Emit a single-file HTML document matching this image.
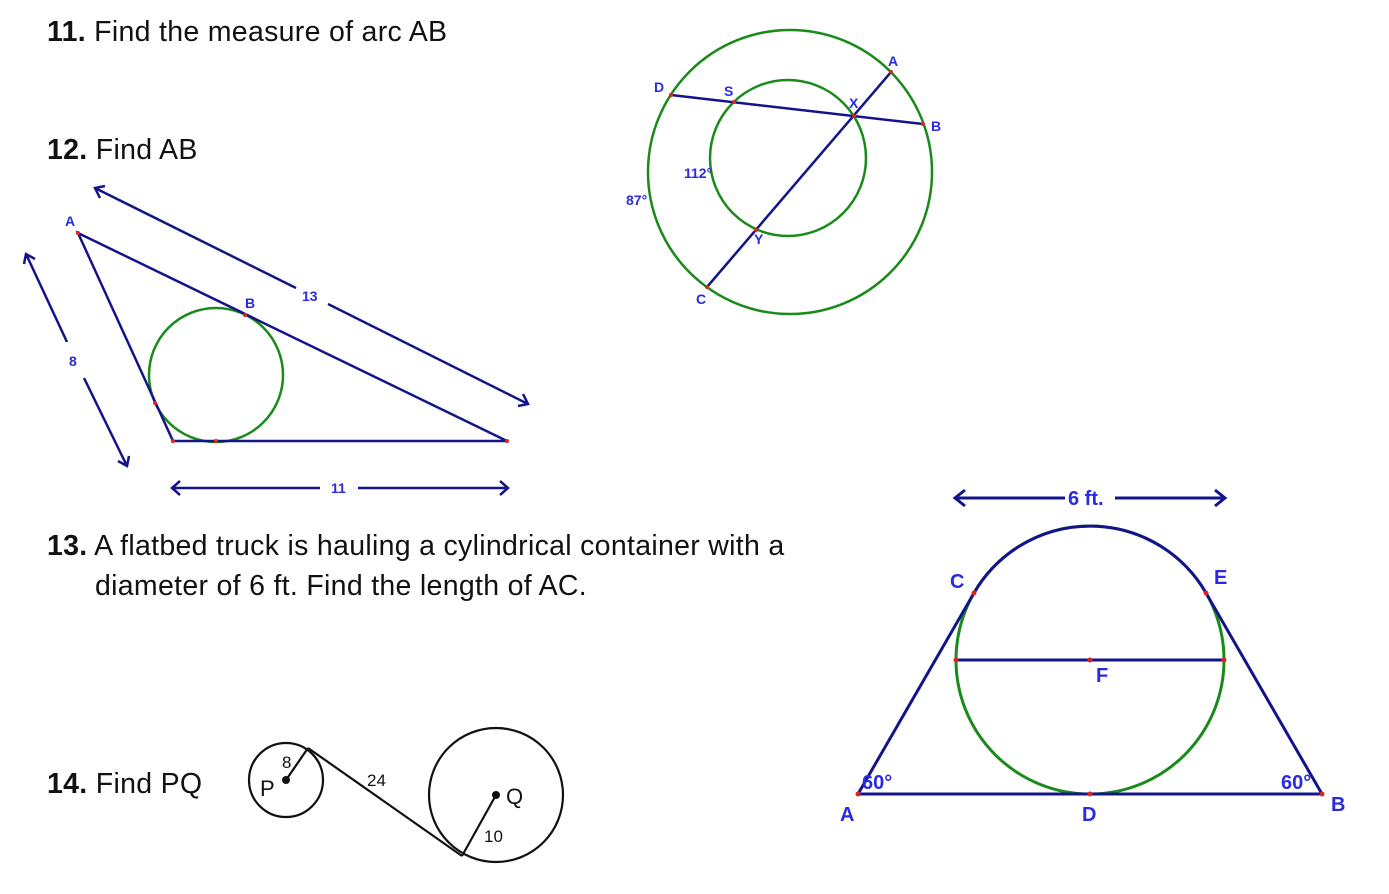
<!DOCTYPE html>
<html><head><meta charset="utf-8"><style>
body{margin:0;background:#fff;width:1389px;height:894px;overflow:hidden;font-family:"Liberation Sans",sans-serif}
.t{position:absolute;font-size:28.5px;color:#111;line-height:40px;letter-spacing:0.3px;white-space:nowrap}
</style></head><body>
<div class="t" style="left:47px;top:12px"><b>11.</b> Find the measure of arc AB</div>
<div class="t" style="left:47px;top:130px"><b>12.</b> Find AB</div>
<div class="t" style="left:47px;top:526px"><b>13.</b> A flatbed truck is hauling a cylindrical container with a</div>
<div class="t" style="left:95px;top:566px">diameter of 6 ft. Find the length of AC.</div>
<div class="t" style="left:47px;top:764px"><b>14.</b> Find PQ</div>
<svg width="1389" height="894" style="position:absolute;left:0;top:0" font-family="Liberation Sans" font-weight="bold">
<g fill="none" stroke-width="2.5">
<circle cx="790" cy="172" r="142" stroke="#1a8a1a"/>
<circle cx="788" cy="158" r="78" stroke="#1a8a1a"/>
<line x1="671" y1="95" x2="923" y2="124" stroke="#14148a"/>
<line x1="891" y1="72" x2="707" y2="287" stroke="#14148a"/>
<circle cx="216" cy="375" r="67" stroke="#1a8a1a"/>
<polygon points="78,233 173,441 507,441" stroke="#14148a"/>
<line x1="95" y1="188" x2="296" y2="288" stroke="#14148a"/>
<line x1="328" y1="304" x2="528" y2="404" stroke="#14148a"/>
<polyline points="105,186 95,188 100,198" stroke="#14148a"/>
<polyline points="518,406 528,404 523,394" stroke="#14148a"/>
<line x1="26" y1="254" x2="67" y2="342" stroke="#14148a"/>
<line x1="84" y1="378" x2="127" y2="466" stroke="#14148a"/>
<polyline points="24,264 26,254 35,259" stroke="#14148a"/>
<polyline points="129,456 127,466 118,461" stroke="#14148a"/>
<line x1="172" y1="488" x2="320" y2="488" stroke="#14148a"/>
<line x1="358" y1="488" x2="508" y2="488" stroke="#14148a"/>
<polyline points="180,481 172,488 180,495" stroke="#14148a"/>
<polyline points="500,481 508,488 500,495" stroke="#14148a"/>
<circle cx="1090" cy="660" r="134" stroke="#1a8a1a" stroke-width="3"/>
<polygon points="858,794 974,593" stroke="#14148a" stroke-width="3"/>
<line x1="1206" y1="593" x2="1322" y2="794" stroke="#14148a" stroke-width="3"/>
<line x1="858" y1="794" x2="1322" y2="794" stroke="#14148a" stroke-width="3"/>
<line x1="956" y1="660" x2="1224" y2="660" stroke="#14148a" stroke-width="3"/>
<path d="M974,593 A134,134 0 0 1 1206,593" stroke="#14148a" stroke-width="3"/>
<line x1="955" y1="498" x2="1065" y2="498" stroke="#14148a" stroke-width="3"/>
<line x1="1115" y1="498" x2="1225" y2="498" stroke="#14148a" stroke-width="3"/>
<polyline points="965,490 955,498 965,506" stroke="#14148a" stroke-width="3"/>
<polyline points="1215,490 1225,498 1215,506" stroke="#14148a" stroke-width="3"/>
<g stroke="#111" stroke-width="2.2">
<circle cx="286" cy="780" r="37"/>
<circle cx="496" cy="795" r="67"/>
<line x1="308" y1="748" x2="462" y2="856"/>
<line x1="286" y1="780" x2="308" y2="748"/>
<line x1="496" y1="795" x2="462" y2="856"/>
</g>
</g>
<g fill="#d22">
<circle cx="671" cy="95" r="2"/><circle cx="923" cy="124" r="2"/><circle cx="891" cy="72" r="2"/><circle cx="707" cy="287" r="2"/><circle cx="854" cy="116" r="2"/><circle cx="734" cy="102" r="2"/><circle cx="756" cy="230" r="2"/>
<circle cx="78" cy="233" r="2"/><circle cx="173" cy="441" r="2"/><circle cx="507" cy="441" r="2"/><circle cx="245" cy="315" r="2"/><circle cx="155" cy="403" r="2"/><circle cx="216" cy="441" r="2"/>
<circle cx="858" cy="794" r="2.5"/><circle cx="1322" cy="794" r="2.5"/><circle cx="974" cy="593" r="2.5"/><circle cx="1206" cy="593" r="2.5"/><circle cx="956" cy="660" r="2.5"/><circle cx="1224" cy="660" r="2.5"/><circle cx="1090" cy="660" r="2.5"/><circle cx="1090" cy="794" r="2.5"/>
</g>
<circle cx="286" cy="780" r="4" fill="#111"/><circle cx="496" cy="795" r="4" fill="#111"/>
<g fill="#2a2ae0" font-size="14">
<text x="654" y="92">D</text><text x="724" y="96">S</text><text x="849" y="108">X</text><text x="888" y="66">A</text><text x="931" y="131">B</text><text x="696" y="304">C</text><text x="754" y="244">Y</text><text x="684" y="178">112°</text><text x="626" y="205">87°</text>
<text x="65" y="226">A</text><text x="245" y="308">B</text><text x="302" y="301">13</text><text x="69" y="366">8</text><text x="331" y="493">11</text>
</g>
<g fill="#2a2ae0" font-size="20">
<text x="1068" y="505">6 ft.</text><text x="950" y="588">C</text><text x="1214" y="584">E</text><text x="1096" y="682">F</text><text x="840" y="821">A</text><text x="1082" y="821">D</text><text x="1331" y="811">B</text><text x="862" y="789">60°</text><text x="1281" y="789">60°</text>
</g>
<g fill="#111" font-weight="normal">
<text x="260" y="796" font-size="22">P</text><text x="506" y="804" font-size="22">Q</text><text x="282" y="768" font-size="17">8</text><text x="367" y="786" font-size="17">24</text><text x="484" y="842" font-size="17">10</text>
</g>
</svg>
</body></html>
